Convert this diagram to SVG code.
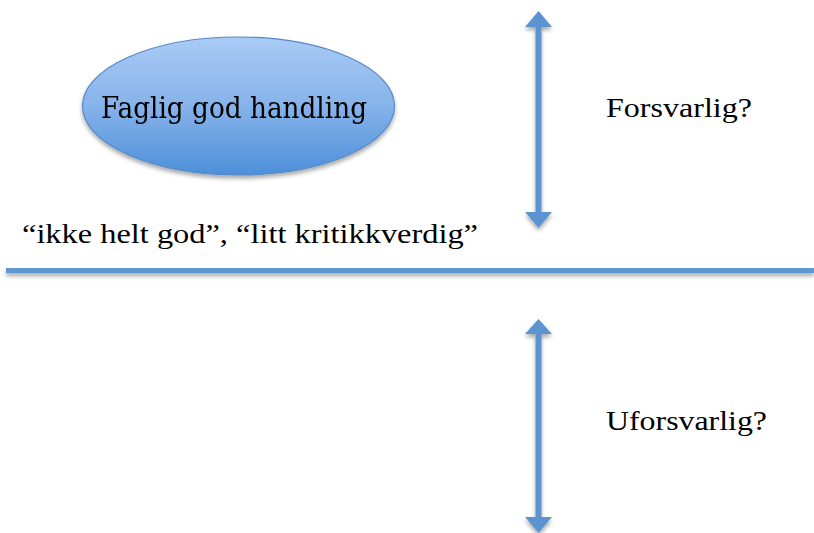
<svg xmlns="http://www.w3.org/2000/svg" width="814" height="533" viewBox="0 0 814 533">
  <defs>
    <linearGradient id="ovalFill" x1="0" y1="0" x2="0" y2="1">
      <stop offset="0" stop-color="#a9cbf6"/>
      <stop offset="0.5" stop-color="#86b3ea"/>
      <stop offset="1" stop-color="#4d8fd9"/>
    </linearGradient>
    <filter id="shadow" x="-10%" y="-10%" width="130%" height="140%">
      <feGaussianBlur in="SourceAlpha" stdDeviation="2"/>
      <feOffset dx="0" dy="3" result="b"/>
      <feComponentTransfer><feFuncA type="linear" slope="0.35"/></feComponentTransfer>
      <feMerge><feMergeNode/><feMergeNode in="SourceGraphic"/></feMerge>
    </filter>
    <style>
      .arrow { stroke: #5b94d2; stroke-width: 6; fill: none; }
      .head { fill: #5b94d2; }
      .label { fill: #000; }
      .times { font-family: "Times New Roman", "Liberation Serif", Tinos, serif; }
    </style>
  </defs>

  <g id="oval" filter="url(#shadow)">
    <ellipse cx="238.5" cy="106" rx="156" ry="69" fill="url(#ovalFill)" stroke="#5588c6" stroke-width="1.2"/>
    <text class="label" x="234" y="118" font-family="'DejaVu Serif', serif" font-size="30" text-anchor="middle" textLength="266" lengthAdjust="spacingAndGlyphs">Faglig god handling</text>
  </g>

  <g id="connectors" filter="url(#shadow)">
    <!-- upper double arrow -->
    <path class="arrow" d="M538.5,27 V212"/>
    <path class="head" d="M525,27 L538.5,11 L552,27 Z"/>
    <path class="head" d="M525,212 L538.5,228 L552,212 Z"/>
    <!-- lower double arrow -->
    <path class="arrow" d="M538.5,334 V517"/>
    <path class="head" d="M525,334 L538.5,319 L552,334 Z"/>
    <path class="head" d="M525,517 L538.5,533 L552,517 Z"/>
    <!-- divider line -->
    <rect x="6" y="268" width="808" height="5" fill="#5f97d0"/>
  </g>

  <g id="forsvarlig">
    <text class="label times" x="606" y="117" font-size="28" textLength="146" lengthAdjust="spacingAndGlyphs">Forsvarlig?</text>
  </g>
  <g id="uforsvarlig">
    <text class="label times" x="606" y="430" font-size="28" textLength="161" lengthAdjust="spacingAndGlyphs">Uforsvarlig?</text>
  </g>
  <g id="kommentar">
    <text class="label times" x="22" y="243" font-size="28" textLength="456" lengthAdjust="spacingAndGlyphs">“ikke helt god”, “litt kritikkverdig”</text>
  </g>
</svg>
